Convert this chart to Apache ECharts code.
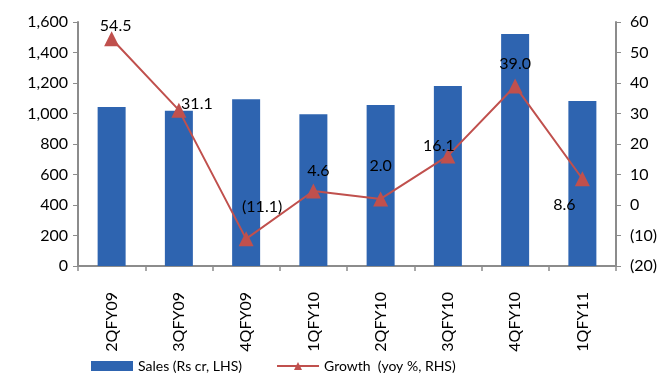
<!DOCTYPE html>
<html><head><meta charset="utf-8">
<script src="https://cdn.jsdelivr.net/npm/echarts@6/dist/echarts.min.js"></script>
<style>html,body{margin:0;padding:0;background:#fff}#c{width:671px;height:379px}</style>
</head><body><div id="c"></div>
<script>
const categories = ['2QFY09','3QFY09','4QFY09','1QFY10','2QFY10','3QFY10','4QFY10','1QFY11'];
const sales = [1043, 1018, 1093, 995, 1056, 1180, 1521, 1082];
const growth = [54.5, 31.1, -11.1, 4.6, 2.0, 16.1, 39.0, 8.6];
const salesName = 'Sales (Rs cr, LHS)';
const growthName = 'Growth  (yoy %, RHS)';

const font = 'Lato, "Open Sans", sans-serif';
const fs = 16;
const labelStyles = [
  {position:'top', offset:[4,8]},
  {position:'top', offset:[18,14]},
  {position:'top', offset:[16,-12]},
  {position:'top', offset:[5,0]},
  {position:'top', offset:[0,-13]},
  {position:'top', offset:[-9,10]},
  {position:'top', offset:[0,-2]},
  {position:'bottom', offset:[-18,6]}
];
const fmtG = v => v < 0 ? '(' + Math.abs(v).toFixed(1) + ')' : v.toFixed(1);

const chart = echarts.init(document.getElementById('c'));
chart.setOption({
  animation:false,
  textStyle:{fontFamily:font},
  grid:{left:78, right:55, top:22, bottom:113},
  legend:{
    bottom:1, left:86, itemGap:34, itemWidth:42, itemHeight:10,
    textStyle:{fontSize:14, color:'#000', fontFamily:font},
    data:[{name:salesName, icon:'rect'},{name:growthName}]
  },
  xAxis:{
    type:'category', data:categories,
    axisLine:{lineStyle:{color:'#8c8c8c', width:2}},
    axisTick:{show:true, length:5, lineStyle:{color:'#8c8c8c', width:1.5}},
    axisLabel:{rotate:90, color:'#000', fontSize:fs, margin:26, fontFamily:font}
  },
  yAxis:[
    {type:'value', min:0, max:1600, interval:200,
     axisLine:{show:true, lineStyle:{color:'#8c8c8c', width:2}},
     axisTick:{show:true, length:5, lineStyle:{color:'#8c8c8c'}},
     splitLine:{show:false},
     axisLabel:{color:'#000', fontSize:fs, margin:10, fontFamily:font,
       formatter:v => v.toLocaleString('en-US')}},
    {type:'value', min:-20, max:60, interval:10,
     axisLine:{show:true, lineStyle:{color:'#8c8c8c', width:2}},
     axisTick:{show:true, length:5, lineStyle:{color:'#8c8c8c'}},
     splitLine:{show:false},
     axisLabel:{color:'#000', fontSize:fs, margin:14, fontFamily:font,
       formatter:v => v < 0 ? '(' + Math.abs(v) + ')' : String(v)}}
  ],
  series:[
    {name:salesName, type:'bar', data:sales, barWidth:28, yAxisIndex:0,
     itemStyle:{color:'#2e64b0'}},
    {name:growthName, type:'line', yAxisIndex:1, symbol:'triangle', symbolSize:15,
     lineStyle:{color:'#c0504d', width:2}, itemStyle:{color:'#c0504d'},
     data:growth.map((v,i)=>({value:v, label:Object.assign({show:true, color:'#000', fontSize:fs, fontFamily:font, formatter:p=>fmtG(p.value)}, labelStyles[i])}))}
  ]
});
</script></body></html>
